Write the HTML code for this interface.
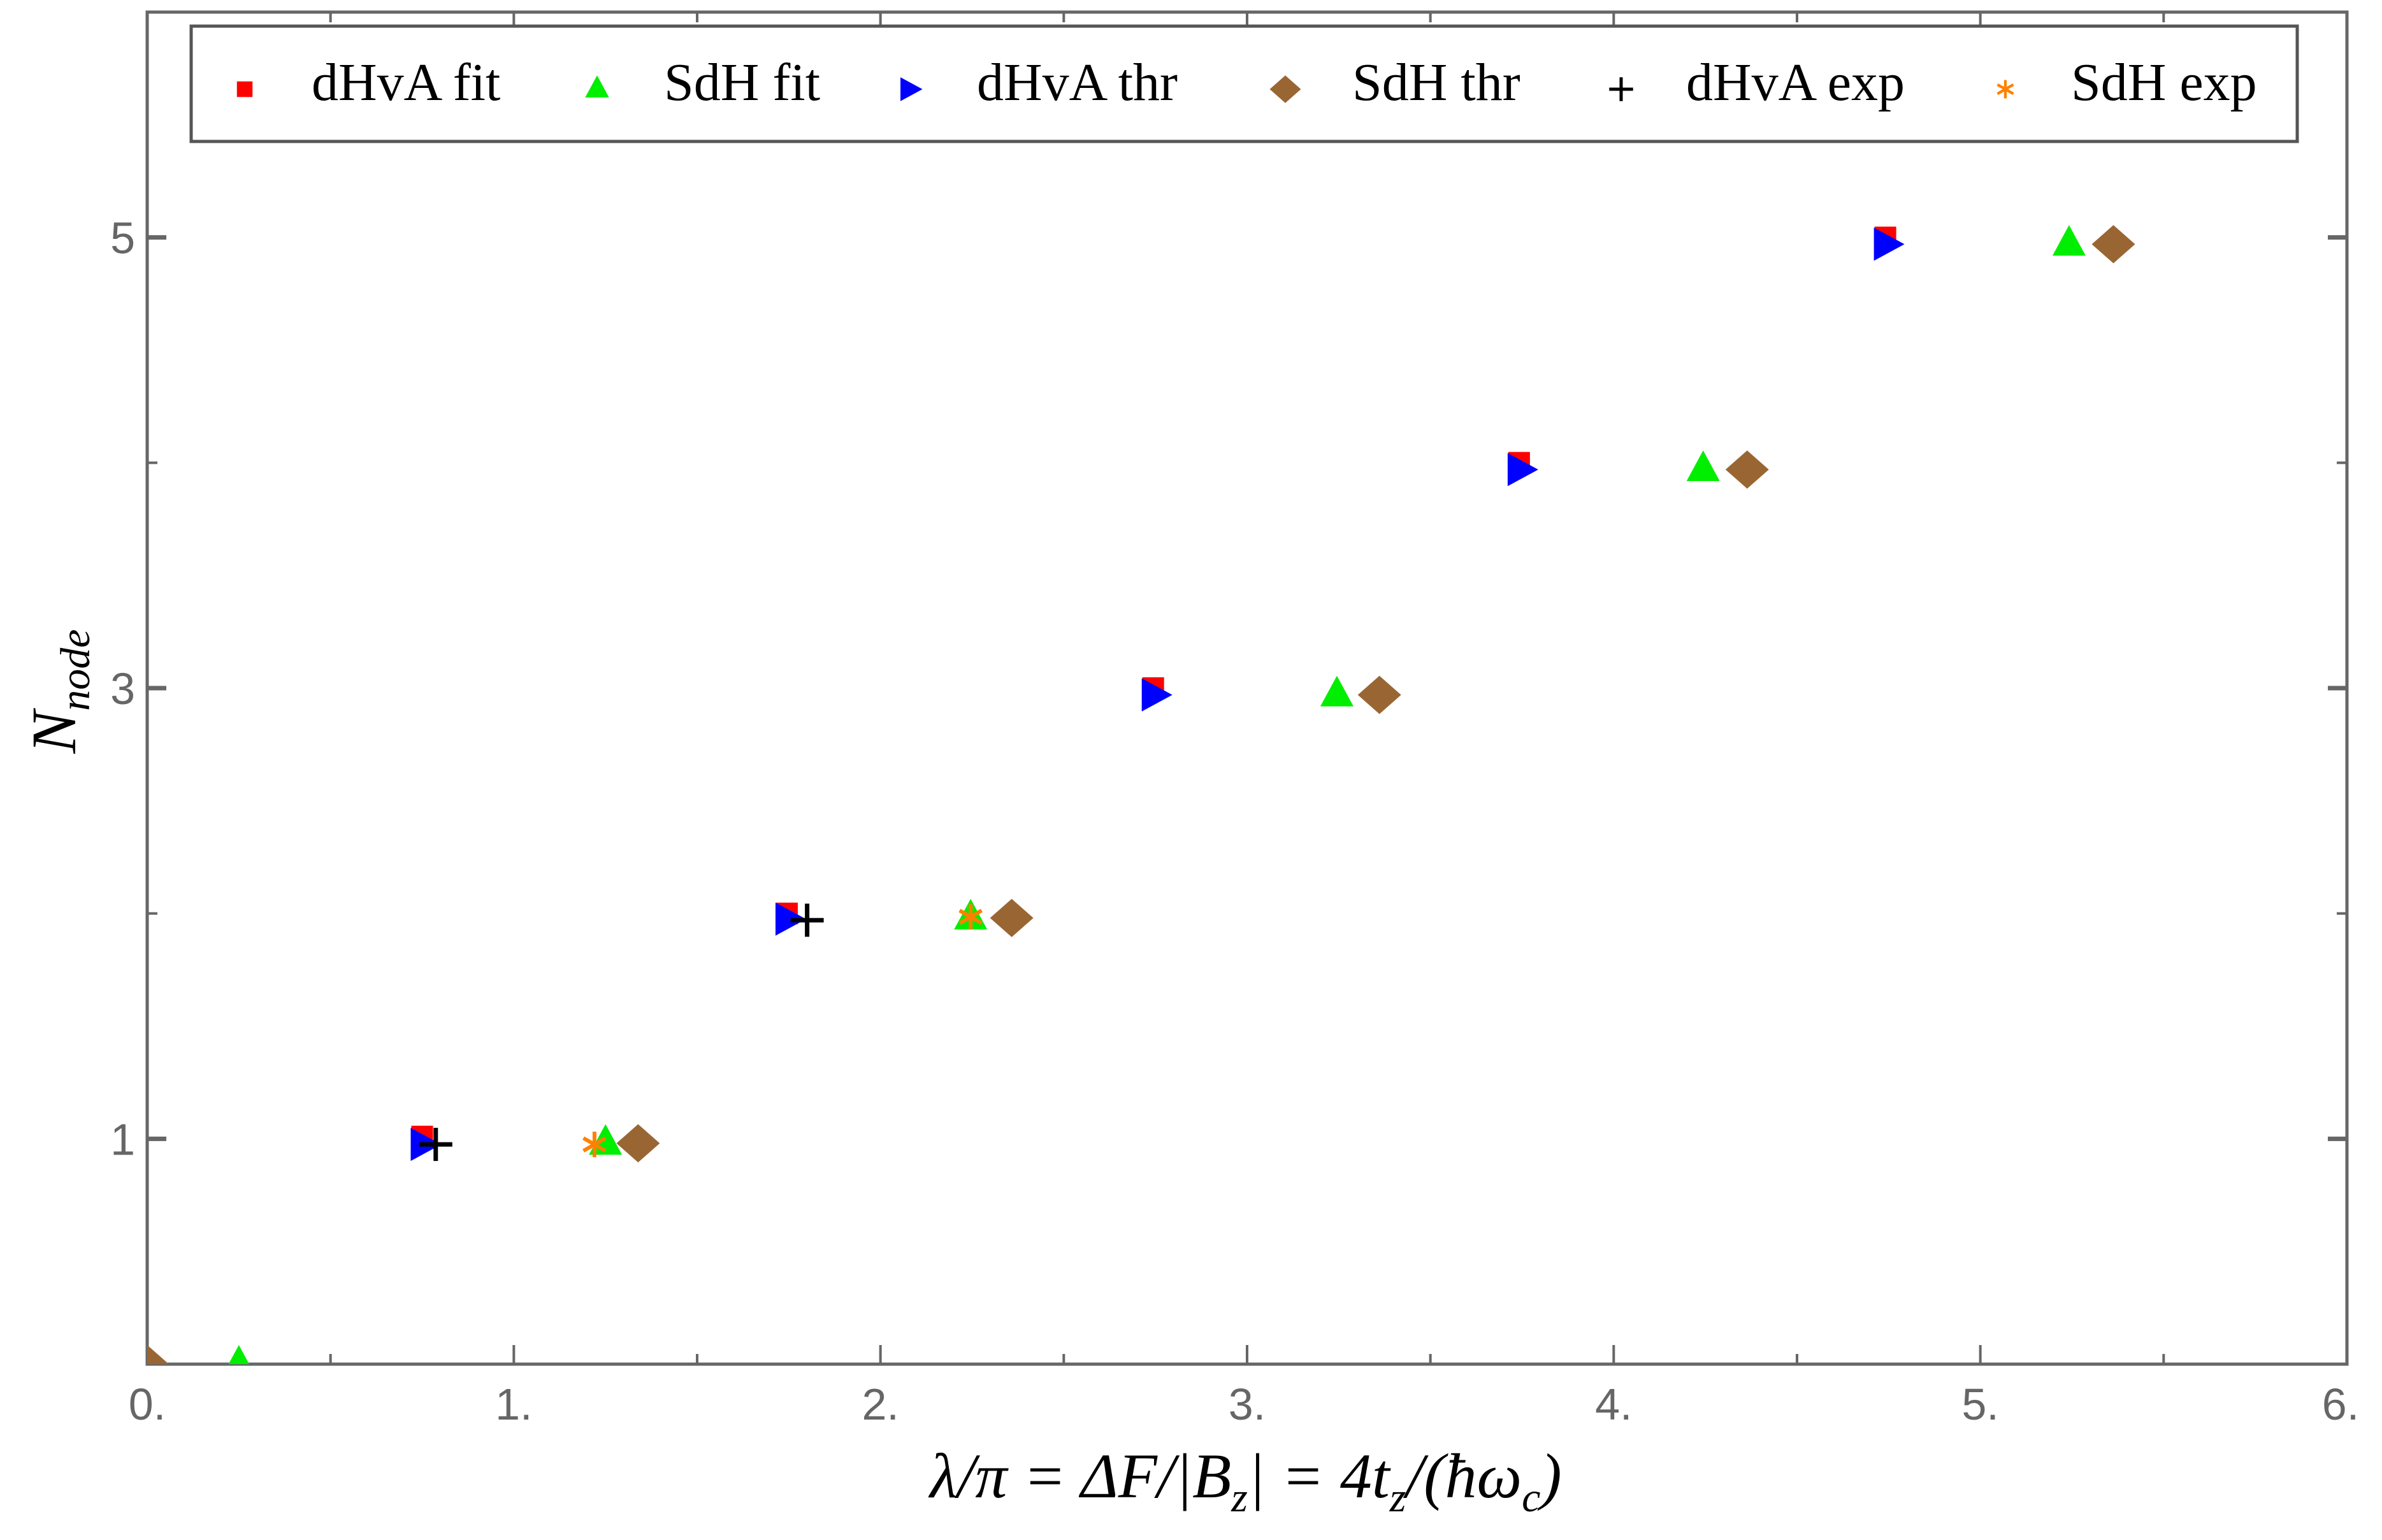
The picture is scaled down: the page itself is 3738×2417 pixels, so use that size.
<!DOCTYPE html>
<html><head><meta charset="utf-8"><style>
html,body{margin:0;padding:0;background:#fff;}
svg{display:block;}
</style></head><body>
<svg id="chart" width="3738" height="2417" viewBox="0 0 3738 2417" xmlns="http://www.w3.org/2000/svg"></svg>
<script>
const dhvaFitX=[0.75,1.745,2.744,3.742,4.741];
const dhvaFitY=[1.01,2.0,3.0,4.0,5.0];
const sdhFitX=[0.25,1.25,2.246,3.245,4.244,5.242];
const sdhFitY=[0,0.98,1.98,2.97,3.97,4.97];
const dhvaThrX=[0.75,1.745,2.744,3.742,4.741];
const dhvaThrY=[0.975,1.975,2.97,3.97,4.97];
const sdhThrX=[0,1.339,2.358,3.361,4.364,5.363];
const sdhThrY=[0,0.98,1.98,2.97,3.97,4.97];
const dhvaExpX=[0.787,1.80];
const dhvaExpY=[0.975,1.97];
const sdhExpX=[1.22,2.246];
const sdhExpY=[0.975,1.985];
const xTickLabels=["0.","1.","2.","3.","4.","5.","6."];
const xTickVals=[0,1,2,3,4,5,6];
const yTickLabels=["1","3","5"];
const yTickVals=[1,3,5];

const NS="http://www.w3.org/2000/svg";
const svg=document.getElementById('chart');
const L=231,R=3683,T=19,B=2141;
const X=v=>L+(R-L)*v/6;
const Y=v=>B-(B-T)*v/6;
function mk(tag,attrs,parent){const e=document.createElementNS(NS,tag);for(const k in attrs)e.setAttribute(k,attrs[k]);(parent||svg).appendChild(e);return e;}

const axisG=mk('g',{});


mk('rect',{x:L,y:T,width:R-L,height:B-T,fill:'none',stroke:'#666',"stroke-width":5},axisG);
for(let i=0;i<=12;i++){const v=i/2;const len=(i%2==0)?30:16;const x=X(v);
 mk('line',{x1:x,y1:B,x2:x,y2:B-len,stroke:'#666','stroke-width':4},axisG);
 mk('line',{x1:x,y1:T,x2:x,y2:T+len,stroke:'#666','stroke-width':4},axisG);}
for(let v=1;v<=5;v++){const len=(v%2==1)?30:16;const y=Y(v);
 mk('line',{x1:L,y1:y,x2:L+len,y2:y,stroke:'#666','stroke-width':(v%2==1)?7:4},axisG);
 mk('line',{x1:R,y1:y,x2:R-len,y2:y,stroke:'#666','stroke-width':(v%2==1)?7:4},axisG);}
xTickLabels.forEach((t,i)=>{const e=mk('text',{x:X(xTickVals[i])+(i==6?-10:0),y:2228,'font-family':'Liberation Sans, sans-serif','font-size':70,fill:'#666','text-anchor':'middle'});e.textContent=t;
 
 });
yTickLabels.forEach((t,i)=>{const e=mk('text',{x:212,y:Y(yTickVals[i])+25,'font-family':'Liberation Sans, sans-serif','font-size':70,fill:'#666','text-anchor':'end'});e.textContent=t;
 
 });

const xt=mk('text',{x:1955,y:2350,'font-family':'Liberation Serif, serif','font-size':100,'font-style':'italic',fill:'#000','text-anchor':'middle'});
xt.innerHTML='λ/π = ΔF/|B<tspan font-size="66" dy="22">z</tspan><tspan dy="-22">| = 4t</tspan><tspan font-size="66" dy="22">z</tspan><tspan dy="-22">/(ħω</tspan><tspan font-size="66" dy="22">c</tspan><tspan dy="-22">)</tspan>';


const yt=mk('text',{x:0,y:0,transform:'translate(118,1085) rotate(-90)','font-family':'Liberation Serif, serif','font-size':100,'font-style':'italic',fill:'#000','text-anchor':'middle'});
yt.innerHTML='N<tspan font-size="66" dy="22">node</tspan>';



function marker(type,cx,cy,g,s){s=s||1;
 if(type=='sq')mk('rect',{x:cx-17*s,y:cy-17*s,width:34*s,height:34*s,fill:'#ff0000'},g);
 else if(type=='tri')mk('polygon',{points:`${cx},${cy-30*s} ${cx+26*s},${cy+18*s} ${cx-26*s},${cy+18*s}`,fill:'#00ee00'},g);
 else if(type=='rtri')mk('polygon',{points:`${cx-18*s},${cy-26*s} ${cx+30*s},${cy} ${cx-18*s},${cy+26*s}`,fill:'#0000ff'},g);
 else if(type=='dia')mk('polygon',{points:`${cx},${cy-30*s} ${cx+34*s},${cy} ${cx},${cy+30*s} ${cx-34*s},${cy}`,fill:'#996633'},g);
 else if(type=='plus'){mk('line',{x1:cx-26*s,y1:cy,x2:cx+26*s,y2:cy,stroke:'#000','stroke-width':7*s},g);mk('line',{x1:cx,y1:cy-26*s,x2:cx,y2:cy+26*s,stroke:'#000','stroke-width':7*s},g);}
 else if(type=='star'){for(let a=0;a<3;a++){const t=a*Math.PI/3+Math.PI/2;mk('line',{x1:cx-20*s*Math.cos(t),y1:cy-20*s*Math.sin(t),x2:cx+20*s*Math.cos(t),y2:cy+20*s*Math.sin(t),stroke:'#ff8000','stroke-width':6*s},g);}}
}
const clip=mk('clipPath',{id:'pc'});mk('rect',{x:L,y:T,width:R-L,height:B-T},clip);
function series(name,type,xs,ys){const g=mk('g',{'clip-path':'url(#pc)'});
 
 
 xs.forEach((x,i)=>marker(type,X(x),Y(ys[i]),g));}
series('dhva-fit-series','sq',dhvaFitX,dhvaFitY);
series('sdh-fit-series','tri',sdhFitX,sdhFitY);
series('dhva-thr-series','rtri',dhvaThrX,dhvaThrY);
series('sdh-thr-series','dia',sdhThrX,sdhThrY);
series('sdh-exp-series','star',sdhExpX,sdhExpY);
series('dhva-exp-series','plus',dhvaExpX,dhvaExpY);

const lg=mk('g',{});


mk('rect',{x:300,y:41,width:3305,height:181,fill:'#fff',stroke:'#555','stroke-width':5},lg);
const leg=[['sq','dHvA fit',384,489],['tri','SdH fit',937,1042],['rtri','dHvA thr',1426,1533],['dia','SdH thr',2017,2122],['plus','dHvA exp',2544,2646],['star','SdH exp',3147,3250]];
leg.forEach(l=>{const g=mk('g',{},lg);
 
 
 marker(l[0],l[2],140,g,0.72);
 const t=mk('text',{x:l[3],y:157,'font-family':'Liberation Serif, serif','font-size':84,fill:'#000'},g);t.textContent=l[1];});
</script>
</body></html>
